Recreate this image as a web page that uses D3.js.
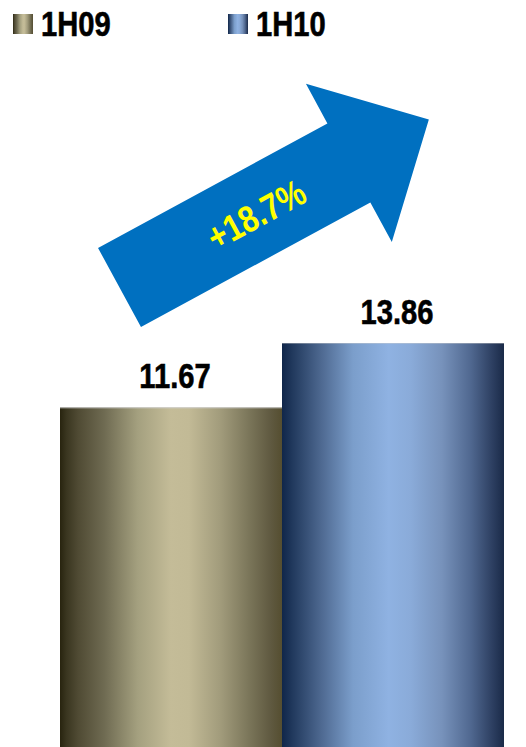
<!DOCTYPE html>
<html>
<head>
<meta charset="utf-8">
<script src="https://cdn.jsdelivr.net/npm/d3@7"></script>
<style>
  html, body { margin: 0; padding: 0; background: #fff; }
  svg { display: block; }
  .lbl { font-family: "Liberation Sans", Arial, sans-serif; font-weight: bold; stroke-width: 0.6px; }
</style>
</head>
<body>
<svg id="chart" width="526" height="747"></svg>
<script>
// Half-year figures
const categories = ["1H09", "1H10"];
const values = [11.67, 13.86];
const valueLabels = ["11.67", "13.86"];
const growthLabel = "+18.7%";

// Cylinder-style shading for each series (offset %, colour)
const shadeStops = [
  [[0, "#28240f"], [3, "#3a3620"], [8, "#4f4a33"], [20, "#6f6b52"], [35, "#a4a07f"],
   [50, "#c4bc98"], [58, "#c2ba96"], [72, "#a29c7c"], [85, "#7b765a"], [95, "#5f5940"], [100, "#554e30"]],
  [[0, "#10264a"], [5, "#223a5e"], [18, "#4f6a92"], [32, "#7b9ecb"], [48, "#8fb2e2"],
   [58, "#8aabd9"], [72, "#7792bb"], [85, "#506890"], [95, "#2c3e60"], [100, "#1a2a48"]]
];

// condensed bold lettering: regular bold face squeezed horizontally
const NARROW = 0.81;

const svg = d3.select("#chart");
const defs = svg.append("defs");

shadeStops.forEach((stops, i) => {
  const g = defs.append("linearGradient")
    .attr("id", "shade" + i)
    .attr("x1", "0%").attr("x2", "100%").attr("y1", "0%").attr("y2", "0%");
  g.selectAll("stop").data(stops).join("stop")
    .attr("offset", d => d[0] + "%")
    .attr("stop-color", d => d[1]);
});

// Scales
const x = d3.scaleBand().domain(categories).range([60, 504]).padding(0);
const y = d3.scaleLinear().domain([0, d3.max(values)]).range([750, 343]);

// Bars
const bars = svg.append("g");
bars.selectAll("rect.bar").data(values).join("rect")
  .attr("class", "bar")
  .attr("x", (d, i) => x(categories[i]))
  .attr("width", x.bandwidth())
  .attr("y", d => y(d))
  .attr("height", d => y(0) - y(d))
  .attr("fill", (d, i) => `url(#shade${i})`);

// thin highlight along each bar's top edge
bars.selectAll("line.top").data(values).join("line")
  .attr("class", "top")
  .attr("x1", (d, i) => x(categories[i]))
  .attr("x2", (d, i) => x(categories[i]) + x.bandwidth())
  .attr("y1", d => y(d) + 0.5)
  .attr("y2", d => y(d) + 0.5)
  .attr("stroke", "#cfcfcf")
  .attr("stroke-width", 1)
  .attr("opacity", (d, i) => i === 0 ? 0.9 : 0.4);

// Value labels
svg.append("g").selectAll("g").data(values).join("g")
  .attr("transform", (d, i) =>
    `translate(${x(categories[i]) + x.bandwidth() / 2 + 4},${y(d) - 19}) scale(${NARROW},1)`)
  .append("text")
  .attr("class", "lbl")
  .attr("text-anchor", "middle")
  .attr("font-size", 36)
  .attr("fill", "#000")
  .attr("stroke", "#000")
  .text((d, i) => valueLabels[i]);

// Legend
const legend = svg.append("g");
const legendX = [13, 228];
const li = legend.selectAll("g").data(categories).join("g")
  .attr("transform", (d, i) => `translate(${legendX[i]},14)`);
li.append("rect")
  .attr("width", 20).attr("height", 20)
  .attr("fill", (d, i) => `url(#shade${i})`);
li.append("g")
  .attr("transform", `translate(28,22) scale(${NARROW},1)`)
  .append("text")
  .attr("class", "lbl")
  .attr("font-size", 36)
  .attr("fill", "#000")
  .attr("stroke", "#000")
  .text(d => d);

// Growth arrow: drawn along its own axis, then rotated into place
const arrow = { ox: 119.5, oy: 287.5, angle: -28.5, shaft: 261, half: 45, headHalf: 90, tip: 352 };
const ag = svg.append("g")
  .attr("transform", `translate(${arrow.ox},${arrow.oy}) rotate(${arrow.angle})`);
const ap = d3.path();
ap.moveTo(0, -arrow.half);
ap.lineTo(arrow.shaft, -arrow.half);
ap.lineTo(arrow.shaft, -arrow.headHalf);
ap.lineTo(arrow.tip, 0);
ap.lineTo(arrow.shaft, arrow.headHalf);
ap.lineTo(arrow.shaft, arrow.half);
ap.lineTo(0, arrow.half);
ap.closePath();
ag.append("path").attr("d", ap.toString()).attr("fill", "#0070c0");
ag.append("g")
  .attr("transform", `translate(155,14) scale(0.84,1)`)
  .append("text")
  .attr("class", "lbl")
  .attr("text-anchor", "middle")
  .attr("font-size", 37)
  .attr("fill", "#ffff00")
  .text(growthLabel);
</script>
</body>
</html>
